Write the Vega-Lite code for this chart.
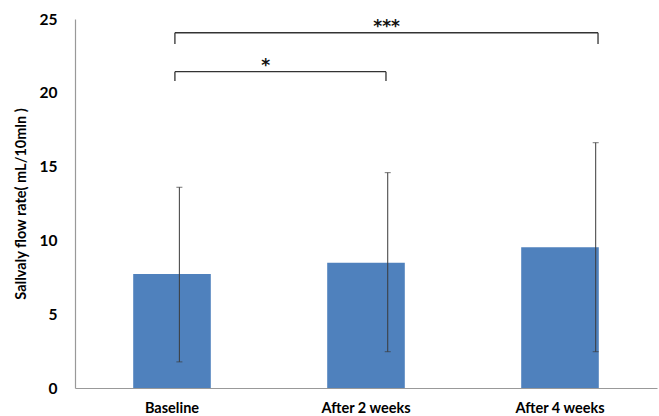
{
  "$schema": "https://vega.github.io/schema/vega-lite/v6.json",
  "width": 582,
  "height": 369,
  "autosize": "none",
  "padding": {"left": 75, "top": 19, "right": 2, "bottom": 28},
  "background": "white",
  "config": {"view": {"stroke": null}, "font": "Lato"},
  "layer": [
    {
      "data": {"values": [
        {"time": "Baseline", "flow": 7.72},
        {"time": "After 2 weeks", "flow": 8.49},
        {"time": "After 4 weeks", "flow": 9.53}
      ]},
      "mark": {"type": "bar", "color": "#4F81BD"},
      "encoding": {
        "x": {
          "field": "time", "type": "nominal", "sort": null,
          "scale": {"paddingInner": 0.6, "paddingOuter": 0.3},
          "axis": {"title": null, "labelAngle": 0, "labelFont": "Lato", "labelFontWeight": "bold", "labelFontSize": 14.5, "labelColor": "#000", "domainColor": "#999", "domainWidth": 1.2, "ticks": false, "labelPadding": 13}
        },
        "y": {
          "field": "flow", "type": "quantitative",
          "scale": {"domain": [0, 25], "nice": false},
          "axis": {"values": [0, 5, 10, 15, 20, 25], "grid": false, "title": "Sallvaly flow rate( mL/10mln )", "titleFont": "Lato", "titleFontWeight": "bold", "titleFontSize": 14.5, "titleColor": "#000", "titlePadding": 11, "labelFont": "Lato", "labelFontWeight": "bold", "labelFontSize": 15.5, "labelColor": "#000", "ticks": false, "labelPadding": 18, "domainColor": "#999", "domainWidth": 1.2}
        }
      }
    },
    {
      "data": {"values": [
        {"pos": 0.538, "lo": 1.77, "hi": 13.6},
        {"pos": 1.612, "lo": 2.46, "hi": 14.59},
        {"pos": 2.684, "lo": 2.46, "hi": 16.62}
      ]},
      "layer": [
        {
          "mark": {"type": "rule", "color": "#3a3a3a", "strokeWidth": 1},
          "encoding": {
            "x": {"field": "pos", "type": "quantitative", "scale": {"domain": [0, 3], "nice": false, "zero": false}, "axis": null},
            "y": {"field": "lo", "type": "quantitative"},
            "y2": {"field": "hi"}
          }
        },
        {
          "mark": {"type": "tick", "color": "#3a3a3a", "orient": "horizontal", "size": 6, "thickness": 1},
          "encoding": {
            "x": {"field": "pos", "type": "quantitative", "scale": {"domain": [0, 3], "nice": false, "zero": false}, "axis": null},
            "y": {"field": "lo", "type": "quantitative"}
          }
        },
        {
          "mark": {"type": "tick", "color": "#3a3a3a", "orient": "horizontal", "size": 6, "thickness": 1},
          "encoding": {
            "x": {"field": "pos", "type": "quantitative", "scale": {"domain": [0, 3], "nice": false, "zero": false}, "axis": null},
            "y": {"field": "hi", "type": "quantitative"}
          }
        }
      ]
    },
    {
      "data": {"values": [
        {"x1": 0.515, "x2": 2.696, "y1": 24.07, "y2": 24.07},
        {"x1": 0.515, "x2": 0.515, "y1": 24.07, "y2": 23.3},
        {"x1": 2.696, "x2": 2.696, "y1": 24.07, "y2": 23.3},
        {"x1": 0.515, "x2": 1.603, "y1": 21.43, "y2": 21.43},
        {"x1": 0.515, "x2": 0.515, "y1": 21.43, "y2": 20.8},
        {"x1": 1.603, "x2": 1.603, "y1": 21.43, "y2": 20.8}
      ]},
      "mark": {"type": "rule", "color": "#333", "strokeWidth": 1.3},
      "encoding": {
        "x": {"field": "x1", "type": "quantitative", "scale": {"domain": [0, 3], "nice": false, "zero": false}, "axis": null},
        "x2": {"field": "x2"},
        "y": {"field": "y1", "type": "quantitative"},
        "y2": {"field": "y2"}
      }
    },
    {
      "data": {"values": [
        {"x": 1.606, "y": 24.07, "label": "***"},
        {"x": 0.983, "y": 21.43, "label": "*"}
      ]},
      "mark": {"type": "text", "font": "DejaVu Sans", "fontWeight": "bold", "fontSize": 17, "color": "#111", "baseline": "alphabetic", "align": "center", "dy": -1},
      "encoding": {
        "x": {"field": "x", "type": "quantitative", "scale": {"domain": [0, 3], "nice": false, "zero": false}, "axis": null},
        "y": {"field": "y", "type": "quantitative"},
        "text": {"field": "label"}
      }
    }
  ],
  "resolve": {"scale": {"x": "independent"}}
}
